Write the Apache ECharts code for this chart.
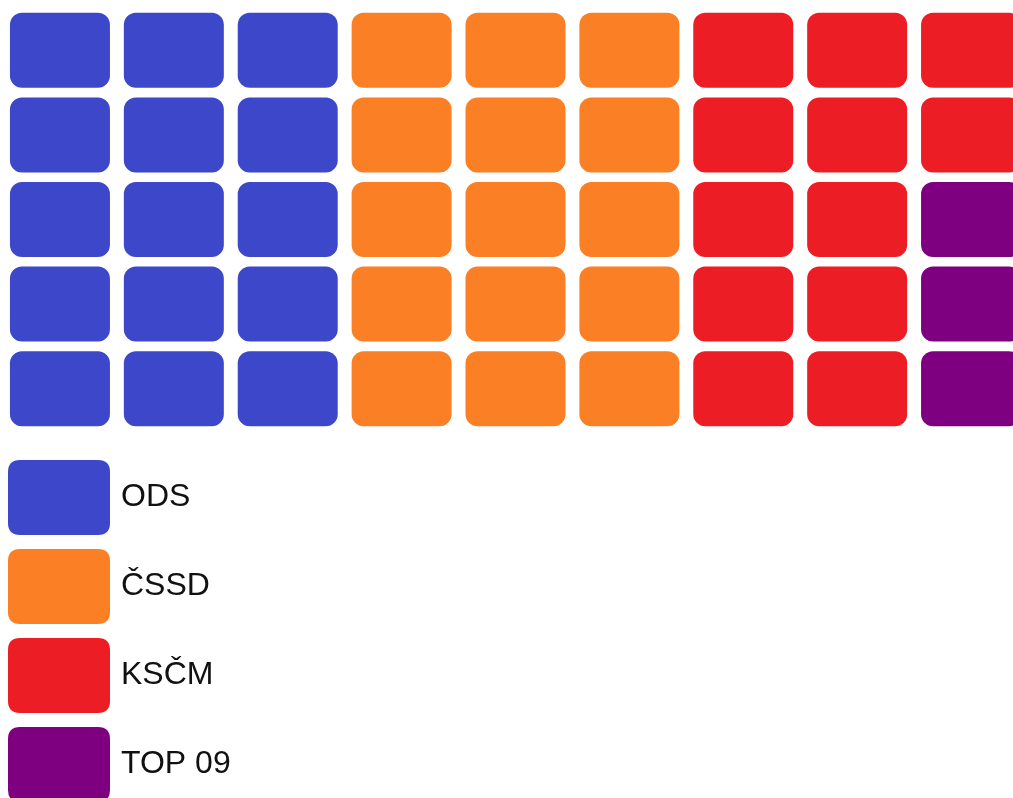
<!DOCTYPE html>
<html lang="en">
<head>
    <meta charset="UTF-8">
    <title>Seats waffle</title>
    <script src="https://cdn.jsdelivr.net/npm/echarts@6/dist/echarts.min.js"></script>
    <style>
        html, body { margin: 0; padding: 0; background: #fff; }
    </style>
</head>
<body>
    <div id="chart" style="width: 1013px; height: 798px;"></div>
    <script>
        // parties and number of squares each
        var parties = ['ODS', 'ČSSD', 'KSČM', 'TOP 09'];
        var seats = [15, 15, 12, 3];
        var colors = ['#3d47c9', '#fb7f25', '#ec1d24', '#7e0080'];
        var rowsPerCol = 5;

        var chart = echarts.init(document.getElementById('chart'));

        // fill the grid column by column, top to bottom
        var series = [];
        var idx = 0;
        parties.forEach(function (name, i) {
            var cells = [];
            for (var k = 0; k < seats[i]; k++) {
                cells.push([Math.floor(idx / rowsPerCol), idx % rowsPerCol]);
                idx++;
            }
            series.push({
                name: name,
                type: 'custom',
                itemStyle: { color: colors[i] },
                data: cells,
                renderItem: function (params, api) {
                    var p = api.coord([api.value(0), api.value(1)]);
                    var s = api.size([1, 1]);
                    var w = s[0] * 0.878, h = s[1] * 0.887;
                    return {
                        type: 'rect',
                        shape: { x: p[0] - w / 2, y: p[1] - h / 2, width: w, height: h, r: 12 },
                        style: { fill: api.visual('color') }
                    };
                }
            });
        });

        var option = {
            animation: false,
            grid: { left: 3, top: 8, width: 1025, height: 423, outerBoundsMode: 'none' },
            xAxis: { type: 'value', min: -0.5, max: 8.5, show: false },
            yAxis: { type: 'value', min: -0.5, max: 4.5, inverse: true, show: false },
            legend: {
                orient: 'vertical',
                left: 8,
                top: 460,
                height: 400,
                padding: 0,
                itemWidth: 102,
                itemHeight: 75,
                itemGap: 14,
                selectedMode: false,
                icon: 'path://M12,0 H90 Q102,0 102,12 V63 Q102,75 90,75 H12 Q0,75 0,63 V12 Q0,0 12,0 Z',
                textStyle: {
                    fontFamily: 'Liberation Sans, Arial, sans-serif',
                    fontSize: 32,
                    color: '#111',
                    padding: [8, 0, 0, 6]
                },
                data: parties
            },
            series: series
        };

        chart.setOption(option);
    </script>
</body>
</html>
